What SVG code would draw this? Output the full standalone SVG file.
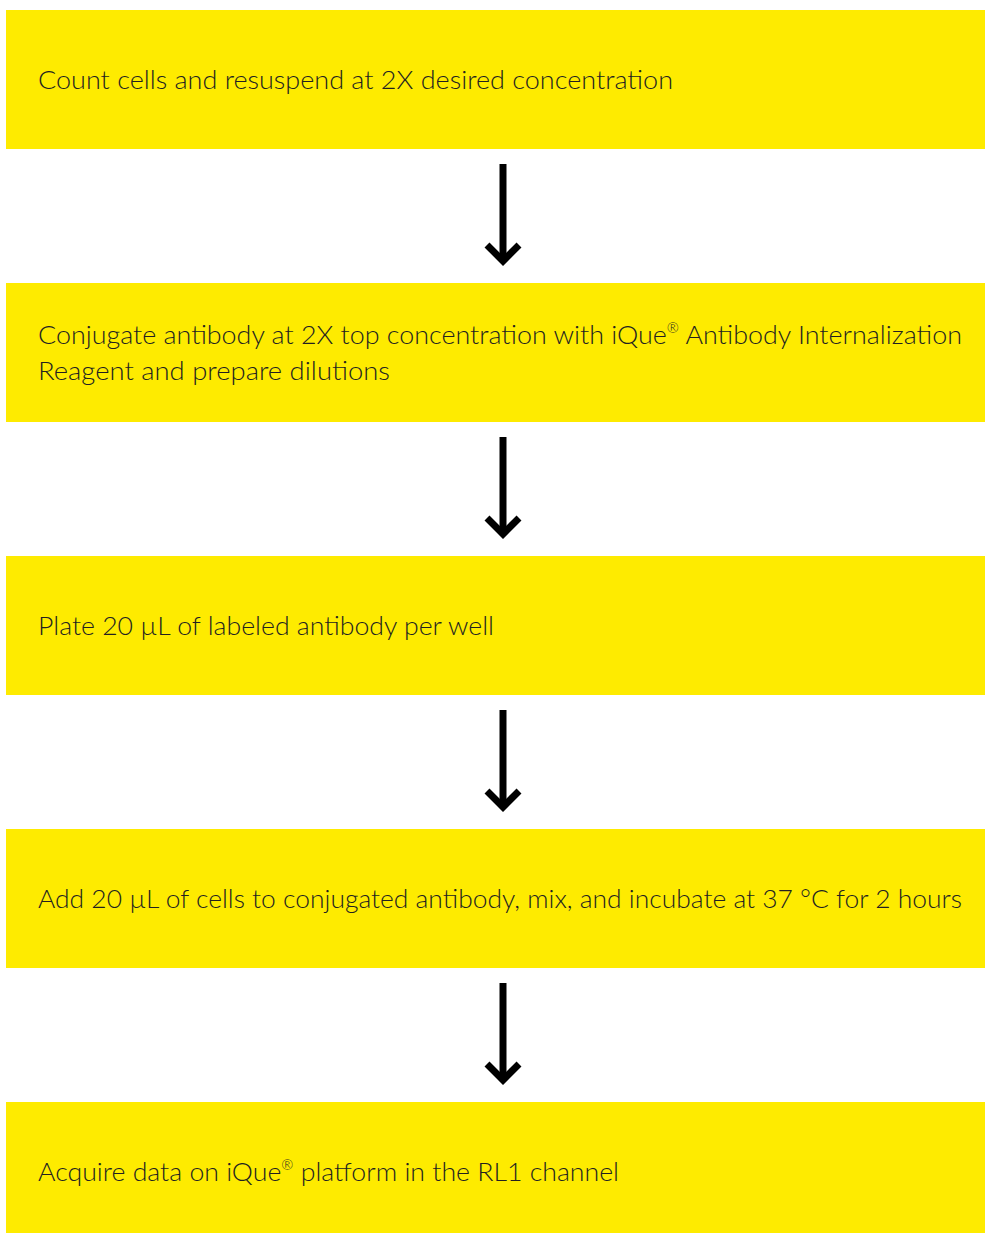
<svg xmlns="http://www.w3.org/2000/svg" width="985" height="1233" viewBox="0 0 985 1233">
<style>
.box{fill:#FEEB00}
.t{font-family:Lato,"Noto Sans","Liberation Sans",sans-serif;font-size:26px;font-weight:300;fill:#231F20}
.sup{font-size:14px}
.arr{stroke:#000;stroke-width:7;fill:none}
</style>
<defs>
<g id="arrow">
<line class="arr" x1="0" y1="0" x2="0" y2="96"/>
<polyline class="arr" points="-16,81 0,97 16,81" stroke-miterlimit="10"/>
</g>
</defs>
<rect width="985" height="1233" fill="#fff"/>
<g id="connectors">
<use href="#arrow" x="503" y="164"/>
<use href="#arrow" x="503" y="437"/>
<use href="#arrow" x="503" y="710"/>
<use href="#arrow" x="503" y="983"/>
</g>
<g id="node1">
<rect class="box" x="6" y="10" width="979" height="139"/>
<text class="t" x="38" y="89" textLength="635" lengthAdjust="spacingAndGlyphs">Count cells and resuspend at 2X desired concentration</text>
</g>
<g id="node2">
<rect class="box" x="6" y="283" width="979" height="139"/>
<text class="t" x="38" y="344" textLength="924" lengthAdjust="spacingAndGlyphs">Conjugate antibody at 2X top concentration with iQue<tspan class="sup" dy="-11">®</tspan><tspan dy="11"> Antibody Internalization</tspan></text>
<text class="t" x="38" y="380" textLength="352" lengthAdjust="spacingAndGlyphs">Reagent and prepare dilutions</text>
</g>
<g id="node3">
<rect class="box" x="6" y="556" width="979" height="139"/>
<text class="t" x="38" y="635" textLength="456" lengthAdjust="spacingAndGlyphs">Plate 20 µL of labeled antibody per well</text>
</g>
<g id="node4">
<rect class="box" x="6" y="829" width="979" height="139"/>
<text class="t" x="38" y="908" textLength="924" lengthAdjust="spacingAndGlyphs">Add 20 µL of cells to conjugated antibody, mix, and incubate at 37 °C for 2 hours</text>
</g>
<g id="node5">
<rect class="box" x="6" y="1102" width="979" height="131"/>
<text class="t" x="38" y="1181" textLength="581" lengthAdjust="spacingAndGlyphs">Acquire data on iQue<tspan class="sup" dy="-11">®</tspan><tspan dy="11"> platform in the RL1 channel</tspan></text>
</g>
</svg>
